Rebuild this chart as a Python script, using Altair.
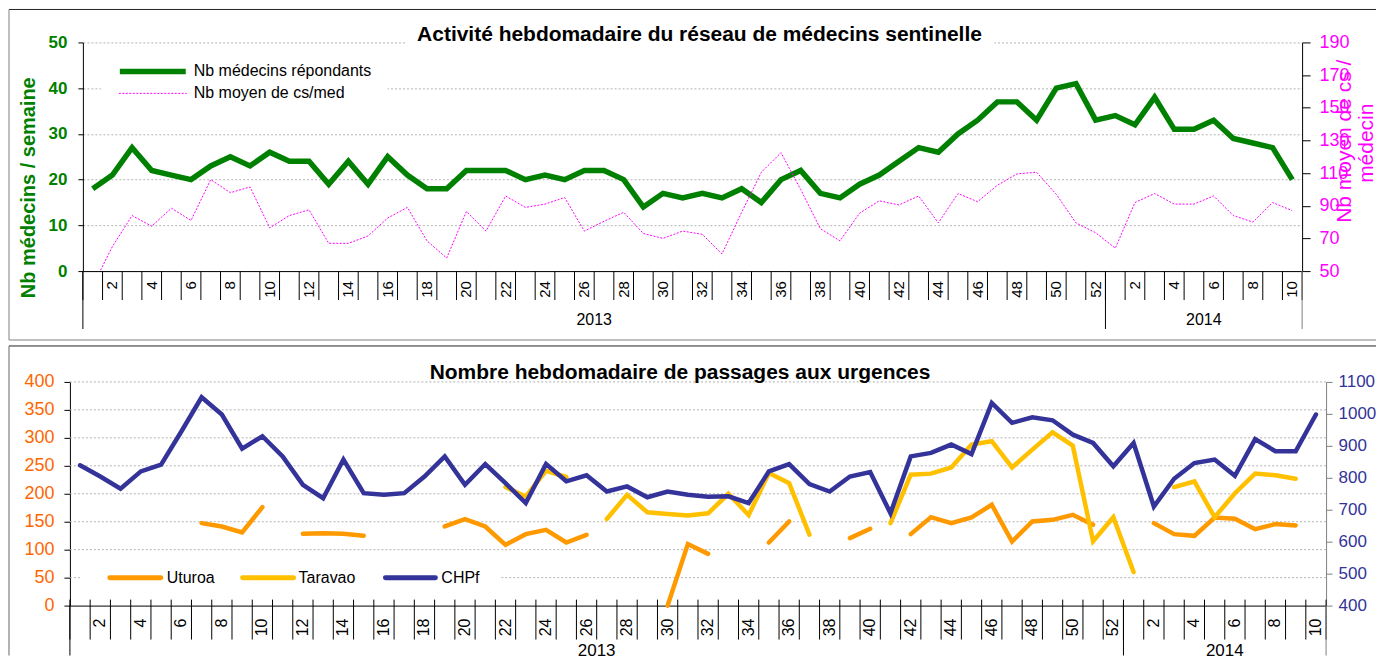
import altair as alt
import pandas as pd

FONT = "Liberation Sans"

# ---------------- categories ----------------
weeks_2013 = list(range(1, 53))
weeks_2014 = list(range(1, 11))
years = ["2013", "2014"]
week_numbers = weeks_2013 + weeks_2014
N = len(week_numbers)
idx = list(range(1, N + 1))

# ---------------- top chart data ----------------
medecins = [18, 21, 27, 22, 21, 20, 23, 25, 23, 26, 24, 24, 19, 24, 19, 25, 21, 18, 18, 22,
            22, 22, 20, 21, 20, 22, 22, 20, 14, 17, 16, 17, 16, 18, 15, 20, 22, 17, 16, 19,
            21, 24, 27, 26, 30, 33, 37, 37, 33, 40, 41, 33,
            34, 32, 38, 31, 31, 33, 29, 28, 27, 20]
cs_med = [41, 65, 84, 77.5, 88.5, 81, 106, 98, 101.5, 76.5, 84, 87.5, 67, 67, 71.5, 82.5, 89, 68.5, 58, 86.5,
          74.5, 96, 89, 91, 95, 74.5, 80.5, 86, 73, 70, 74.5, 72.5, 60.5, 86, 110.5, 122.5, 100, 76, 68.5, 85.5,
          93, 90.5, 96, 79.5, 97.5, 92.5, 102.5, 109.5, 110.5, 97, 79.5, 73.5,
          64, 92, 97.5, 91, 91, 96, 84, 80, 92, 87]

# ---------------- bottom chart data ----------------
uturoa = [None, None, None, None, None, None, 147.5, 141.5, 130.7, 176, None, 128.4, 129.5, 128.4, 124.8,
          None, None, None, 141.5, 154.6, 141.5, 108.7, 127.8, 135.5, 112.8, 126.6, None, None, None, 0,
          110, 92.5, None, None, 112.8, 150.4, None, None, 120.6, 137.3, None, 127.8, 158.2, 147.5, 157.6,
          180.3, 114.6, 150.4, 153.4, 162.4, 144.5, None,
          None, 147.5, 127.8, 124.8, 157.6, 155.2, 136.7, 145.7, 143.3, None]
taravao = [None] * 21 + [212, 195, 241, 230, None, 155, 198, 167, 164, 161, 165, 200, 162, 237, 219, 127,
                         None, None, None, 147.5, 234, 236, 247, 288, 294, 247, 279, 310, 286, 115, 158,
                         60, None, 212, 222, 158, 201, 236, 233, 227, None]
chpf = [839, 804, 766, 820, 841, 945, 1052, 998, 891, 930, 867, 778, 736, 857, 752, 747, 752, 804, 867, 778,
        843, 783, 721, 843, 789, 808, 757, 773, 739, 757, 747, 741, 742, 721, 820, 843, 780, 757, 804, 818,
        689, 867, 878, 904, 874, 1034, 972, 989, 980, 935, 909, 836,
        909, 710, 797, 846, 857, 806, 921, 883, 883, 998]

left_ticks = [0, 50, 100, 150, 200, 250, 300, 350, 400]
right_ticks = [400, 500, 600, 700, 800, 900, 1000, 1100]
top_left_ticks = [0, 10, 20, 30, 40, 50]
top_right_ticks = [50, 70, 90, 110, 130, 150, 170, 190]

# ---------------- derived tables ----------------
top_df = pd.DataFrame({"idx": idx, "medecins": medecins, "cs": cs_med})
left_df = pd.DataFrame({"idx": idx + idx,
                        "series": ["Uturoa"] * N + ["Taravao"] * N,
                        "value": uturoa + taravao})
chpf_df = pd.DataFrame({"idx": idx, "chpf": chpf})
grid_df = pd.DataFrame({"value": left_ticks[1:]})
label_df = pd.DataFrame({"idx": [i for i, w in zip(idx, week_numbers) if w % 2 == 0],
                         "lab": [str(w) for w in week_numbers if w % 2 == 0]})
bounds_df = pd.DataFrame({"idx": [i - 0.5 for i in idx] + [N + 0.5]})
n13 = len(weeks_2013)
year_df = pd.DataFrame({"idx": [(0.5 + n13 + 0.5) / 2, (n13 + 0.5 + N + 0.5) / 2], "lab": years})
div_df = pd.DataFrame({"idx": [0.5, n13 + 0.5]})
end_df = pd.DataFrame({"idx": [N + 0.5]})
one = pd.DataFrame({"k": [0]})


def hrule(x1, x2, y, color, width=1.0, cap="butt"):
    return alt.Chart(one).mark_rule(color=color, strokeWidth=width, strokeCap=cap).encode(
        x=alt.value(x1), x2=alt.value(x2), y=alt.value(y))


def vrule(x, y1, y2, color, width=1.0):
    return alt.Chart(one).mark_rule(color=color, strokeWidth=width).encode(
        x=alt.value(x), y=alt.value(y1), y2=alt.value(y2))


def whitebox(x1, x2, y1, y2):
    return alt.Chart(one).mark_rect(color="white").encode(
        x=alt.value(x1), x2=alt.value(x2), y=alt.value(y1), y2=alt.value(y2))


def label(x, y, text, size=16, color="black", weight="normal", align="left", angle=0, baseline="middle"):
    return alt.Chart(one).mark_text(text=text, fontSize=size, font=FONT, color=color, angle=angle,
                                    fontWeight=weight, align=align, baseline=baseline).encode(
        x=alt.value(x), y=alt.value(y))


def xaxis(scale):
    return alt.X("idx:Q", scale=scale,
                 axis=alt.Axis(labels=False, ticks=False, grid=False, domainColor="black", title=None))


# ================= TOP CHART (plot origin = page x 82) =================
W1, H1 = 1221, 229
RIGHT = 1295  # right edge of the panels, relative to the plot origin
X1 = xaxis(alt.Scale(domain=[0.5, N + 0.5], nice=False, zero=False))

green = alt.Chart(top_df).mark_line(color="#008000", strokeWidth=5.5).encode(
    x=X1,
    y=alt.Y("medecins:Q", scale=alt.Scale(domain=[0, 50], nice=False),
            axis=alt.Axis(orient="left", values=top_left_ticks, format="d", grid=True, labelOverlap=False,
                          gridColor="#b3b3b3", gridDash=[2, 2], domainColor="black",
                          tickColor="black", tickSize=5, labelColor="#008000",
                          labelFontWeight="bold", labelFontSize=17, labelPadding=11,
                          labelFont=FONT, title="Nb médecins / semaine", titleColor="#008000",
                          titleFontSize=20, titleFont=FONT, titleFontWeight="bold",
                          titleAngle=270, titleX=-54, titleY=145, titleAlign="center",
                          titleBaseline="middle")))

pink = alt.Chart(top_df).mark_line(color="#FF00FF", strokeWidth=1, strokeDash=[2, 1.5], clip=True).encode(
    x=X1,
    y=alt.Y("cs:Q", scale=alt.Scale(domain=[50, 190], nice=False, zero=False),
            axis=alt.Axis(orient="right", values=top_right_ticks, format="d", grid=False, labelOverlap=False,
                          domainColor="black", tickColor="black", tickSize=8,
                          labelColor="#FF00FF", labelFontSize=18, labelPadding=9, labelFont=FONT,
                          title=None)))

top_ticks = alt.Chart(bounds_df).mark_rule(color="black").encode(
    x=X1, y=alt.value(H1), y2=alt.value(H1 + 29))
top_labels = alt.Chart(label_df).mark_text(angle=270, align="right", baseline="middle",
                                           fontSize=15, font=FONT, color="black").encode(
    x=X1, y=alt.value(H1 + 10), text="lab:N")
top_div = alt.Chart(div_df).mark_rule(color="black").encode(
    x=X1, y=alt.value(H1), y2=alt.value(H1 + 58))
top_end = alt.Chart(end_df).mark_rule(color="#808080").encode(
    x=X1, y=alt.value(H1), y2=alt.value(H1 + 58))
top_years = alt.Chart(year_df).mark_text(fontSize=16, font=FONT, color="black", baseline="middle").encode(
    x=X1, y=alt.value(H1 + 48.5), text="lab:N")

top = alt.layer(
    hrule(-74, RIGHT, -33, "#222222"),
    vrule(-74, -33, H1 + 69, "#808080"),
    hrule(-74, RIGHT, H1 + 69, "#808080"),
    whitebox(323, 913, -16, 3),
    whitebox(18, 305, 17, 63),
    green,
    pink,
    hrule(37, 103, 29, "#008000", 5.5),
    label(111, 29, "Nb médecins répondants"),
    alt.Chart(one).mark_rule(color="#FF00FF", strokeWidth=1, strokeDash=[2, 1.5]).encode(
        x=alt.value(36), x2=alt.value(104), y=alt.value(51)),
    label(111, 51, "Nb moyen de cs/med"),
    label(617.5, -7, "Activité hebdomadaire du réseau de médecins sentinelle", size=21, weight="bold",
          align="center"),
    label(W1 + 49, 99, "Nb moyen de cs /", size=21, color="#FF00FF", align="center", angle=270,
          baseline="alphabetic"),
    label(W1 + 71, 101, "médecin", size=21, color="#FF00FF", align="center", angle=270,
          baseline="alphabetic"),
    top_ticks, top_labels, top_div, top_end, top_years,
).resolve_scale(y="independent").properties(width=W1, height=H1)

# ================= BOTTOM CHART =================
# group origin is shared with the top chart (page x 82); the bottom plot starts 13 px further left
SH = 13
W2, H2 = 1258 - SH, 224
X2 = xaxis(alt.Scale(domain=[0.5, N + 0.5], nice=False, zero=False, range=[-SH, W2]))
YL = alt.Y("value:Q", scale=alt.Scale(domain=[0, 400], nice=False),
           axis=alt.Axis(orient="left", values=left_ticks, format="d", grid=False, offset=SH,
                         labelOverlap=False, domainColor="black", tickColor="black", tickSize=6,
                         labelColor="#FF6600", labelFontSize=18, labelPadding=10,
                         labelFont=FONT, title=None))

grid_rules = alt.Chart(grid_df).mark_rule(color="#b3b3b3", strokeDash=[2, 2]).encode(
    y=YL, x=alt.value(-SH), x2=alt.value(W2))

left_lines = alt.Chart(left_df).mark_line(strokeWidth=4.5, strokeCap="round").encode(
    x=X2, y=YL,
    color=alt.Color("series:N", scale=alt.Scale(domain=["Uturoa", "Taravao"],
                                                range=["#FF9900", "#FFC000"]), legend=None),
    order=alt.Order("series:N", sort="descending"))

left_group = alt.layer(grid_rules, whitebox(11 - SH, 431 - SH, 186, 206), left_lines)

chpf_line = alt.Chart(chpf_df).mark_line(color="#333399", strokeWidth=4.5, strokeCap="round").encode(
    x=X2,
    y=alt.Y("chpf:Q", scale=alt.Scale(domain=[400, 1100], nice=False, zero=False),
            axis=alt.Axis(orient="right", values=right_ticks, format="d", grid=False, labelOverlap=False,
                          domainColor="#808080", tickColor="#808080", tickSize=6,
                          labelColor="#333399", labelFontSize=17, labelPadding=6,
                          labelFont=FONT, title=None)))

bot_ticks = alt.Chart(bounds_df).mark_rule(color="black").encode(
    x=X2, y=alt.value(H2 - 6), y2=alt.value(H2 + 34))
bot_labels = alt.Chart(label_df).mark_text(angle=270, align="right", baseline="middle",
                                           fontSize=16, font=FONT, color="black").encode(
    x=X2, y=alt.value(H2 + 13), text="lab:N")
bot_div = alt.Chart(div_df).mark_rule(color="black").encode(
    x=X2, y=alt.value(H2), y2=alt.value(H2 + 50))
bot_end = alt.Chart(end_df).mark_rule(color="#808080").encode(
    x=X2, y=alt.value(H2), y2=alt.value(H2 + 50))
bot_years = alt.Chart(year_df).mark_text(fontSize=17, font=FONT, color="black", baseline="middle").encode(
    x=X2, y=alt.value(H2 + 45), text="lab:N")

bottom = alt.layer(
    hrule(-74, RIGHT, -36, "#222222"),
    vrule(-74, -36, H2 + 50, "#666666"),
    left_group,
    chpf_line,
    hrule(40 - SH, 91 - SH, 196, "#FF9900", 5, "round"),
    label(97 - SH, 196, "Uturoa"),
    hrule(173 - SH, 224 - SH, 196, "#FFC000", 5, "round"),
    label(229 - SH, 196, "Taravao"),
    hrule(316 - SH, 366 - SH, 196, "#333399", 5, "round"),
    label(372 - SH, 196, "CHPf"),
    label(611 - SH, -9, "Nombre hebdomadaire de passages aux urgences", size=21, weight="bold",
          align="center"),
    bot_ticks, bot_labels, bot_div, bot_end, bot_years,
).resolve_scale(y="independent").properties(width=W2, height=H2)

chart = alt.vconcat(top, bottom, spacing=4, padding=0).configure_view(stroke=None).configure_axis(
    labelFont=FONT, titleFont=FONT)

chart.save("out.html", embed_options={"renderer": "svg", "actions": False})
